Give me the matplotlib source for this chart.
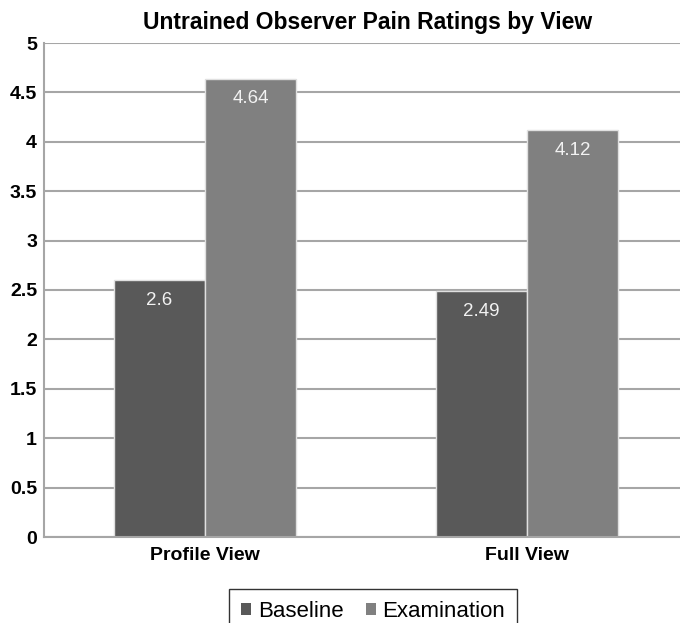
import matplotlib
matplotlib.use("Agg")
import matplotlib.pyplot as plt
import numpy as np

categories = ["Profile View", "Full View"]
series_names = ["Baseline", "Examination"]
baseline = [2.6, 2.49]
examination = [4.64, 4.12]
label_text_baseline = ["2.6", "2.49"]
label_text_exam = ["4.64", "4.12"]
yticks = [0, 0.5, 1, 1.5, 2, 2.5, 3, 3.5, 4, 4.5, 5]
ytick_labels = ["0", "0.5", "1", "1.5", "2", "2.5", "3", "3.5", "4", "4.5", "5"]

plt.rcParams['font.family'] = ['Liberation Sans', 'DejaVu Sans']

fig = plt.figure(figsize=(6.8, 6.23), dpi=100)
ax = fig.add_axes([44/680, 1-537/623, 644/680, (537-43)/623])

x = np.arange(len(categories))
w = 0.283
c_base = "#595959"
c_exam = "#808080"
ax.set_axisbelow(True)
b1 = ax.bar(x - w/2, baseline, w, color=c_base, edgecolor="#e0e0e0", linewidth=1.0, label=series_names[0])
b2 = ax.bar(x + w/2, examination, w, color=c_exam, edgecolor="#e0e0e0", linewidth=1.0, label=series_names[1])

for bars, texts in ((b1, label_text_baseline), (b2, label_text_exam)):
    for r, t in zip(bars, texts):
        ax.annotate(t, (r.get_x() + r.get_width()/2, r.get_height()),
                    xytext=(0, -14.5), textcoords="offset points",
                    ha="center", va="center", color="#f2f2f2", fontsize=13.5)

ax.set_xlim(-0.5, 1.5)
ax.set_ylim(0, 5)
ax.set_yticks(yticks)
ax.set_yticklabels(ytick_labels, fontsize=14, fontweight="bold")
ax.set_xticks(x)
ax.set_xticklabels(categories, fontsize=14, fontweight="bold")
ax.tick_params(axis="x", length=0, pad=7)
ax.tick_params(axis="y", length=0, pad=5)
ax.yaxis.grid(True, color="#a6a6a6", linewidth=1.5)
for s in ("top", "right"):
    ax.spines[s].set_visible(False)
ax.spines["left"].set_color("#a6a6a6")
ax.spines["left"].set_linewidth(1.5)
ax.spines["bottom"].set_color("#a6a6a6")
ax.spines["bottom"].set_linewidth(1.5)

fig.text(368/680, 1-22/623, "Untrained Observer Pain Ratings by View",
         ha="center", va="center", fontsize=16.5, fontweight="bold")

leg = fig.legend(handles=[b1, b2], labels=series_names, loc="upper center",
                 bbox_to_anchor=(373/680, 1-589/623), ncol=2, frameon=True,
                 fancybox=False, edgecolor="black", fontsize=16,
                 handlelength=0.45, handleheight=0.45, handletextpad=0.3,
                 columnspacing=1.0, borderpad=0.55, borderaxespad=0)
leg.get_frame().set_linewidth(1.0)
for h in leg.legend_handles:
    h.set_edgecolor("none")

fig.savefig("out.png", dpi=100)
